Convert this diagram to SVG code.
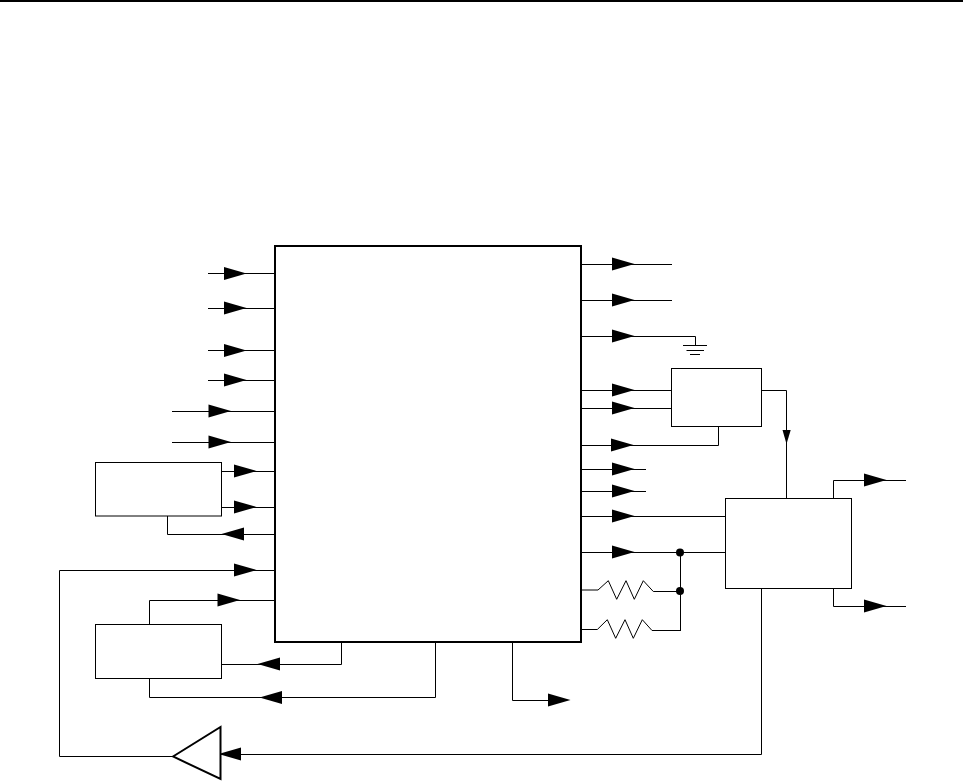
<svg xmlns="http://www.w3.org/2000/svg" width="963" height="781" viewBox="0 0 963 781">
<style>
.b{fill:#fff;stroke:#000;stroke-width:1}
.m{fill:#fff;stroke:#000;stroke-width:2}
.w{fill:none;stroke:#000;stroke-width:1}
.h{fill:#000;stroke:none}
</style>
<defs>
<polygon id="r" class="h" points="0,-6.500 22.500,0 0,6.500"/>
<polygon id="l" class="h" points="0,-6.500 -22.500,0 0,6.500"/>
</defs>
<rect width="963" height="781" fill="#fff"/>
<path d="M0 1H963" stroke="#000" stroke-width="2" fill="none"/>
<g id="connectors">
<path class="w" d="M208 273.500H275M208 308.500H275M208 350.500H275M208 380.500H275M172 411.500H275M172 442.500H275M221 471.500H275M221 507.500H275"/>
<path class="w" d="M167.500 516V534.500H275M275 570.500H59.500V756.500H173M149.500 624V600.500H275M221 664.500H341.500V642M149.500 678V697.500H435.500V642M512.500 642V700.500H550"/>
<path class="w" d="M220 754.500H761.500V588"/>
<path class="w" d="M581 264.500H672M581 300.500H672M581 336.500H695.500V345M683 345.500H707M686.500 350.500H704M690 354.500H700"/>
<path class="w" d="M581 390.500H672M581 408.500H672M581 445.500H718.500V426M581 469.500H646M581 491.500H646M762 390.500H786.500V500"/>
<path class="w" d="M581 516.500H725M581 552.500H725M680.500 552V631M833.500 498V480.500H906M833.500 588V606.500H906"/>
<path class="w" d="M581 590H598L608.300 580.700L616.700 599.300L626 580.700L634.300 599.300L643.300 580.700L653.300 591.500H680.500"/>
<path class="w" d="M581 629.500H597.300L607.300 619.700L615.700 638.300L625 619.700L633.300 638.300L642.300 619.700L652 630.500H680.500"/>
<circle class="h" cx="680" cy="552.500" r="4"/>
<circle class="h" cx="680" cy="591" r="4"/>
<use href="#r" x="224" y="273.500"/><use href="#r" x="224" y="308"/><use href="#r" x="224" y="350.500"/><use href="#r" x="224" y="380"/>
<use href="#r" x="208.500" y="411"/><use href="#r" x="208.500" y="442"/><use href="#r" x="234" y="471"/><use href="#r" x="234" y="507"/>
<use href="#l" x="244" y="534"/><use href="#r" x="234" y="570"/><use href="#r" x="217.500" y="600"/>
<use href="#l" x="280" y="664"/><use href="#l" x="282" y="697.500"/><use href="#l" x="241" y="754"/><use href="#r" x="548" y="700"/>
<use href="#r" x="612" y="264"/><use href="#r" x="612" y="300"/><use href="#r" x="612" y="336"/><use href="#r" x="612" y="390"/><use href="#r" x="612" y="408"/><use href="#r" x="611" y="445"/><use href="#r" x="612" y="469"/><use href="#r" x="612" y="491"/><use href="#r" x="612" y="516"/><use href="#r" x="612" y="552"/>
<use href="#r" x="864" y="480"/><use href="#r" x="864" y="606"/>
<polygon class="h" points="782.500,430 790.700,430 786.500,444"/>
</g>
<g id="main"><rect class="m" x="275" y="246" width="306" height="396"/></g>
<g id="block-a"><rect class="b" x="95.500" y="462.500" width="126" height="53.500"/></g>
<g id="block-b"><rect class="b" x="95.500" y="624.500" width="126" height="54"/></g>
<g id="block-c"><rect class="b" x="671.500" y="368.500" width="90" height="58"/></g>
<g id="block-d"><rect class="b" x="725.500" y="498.500" width="126" height="90"/></g>
<g id="buffer"><polygon points="173,756.500 220.500,727 220.500,779" fill="#fff" stroke="#000" stroke-width="2"/></g>
</svg>
